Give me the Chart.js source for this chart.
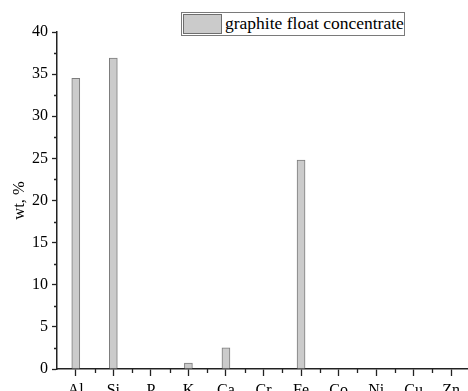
<!DOCTYPE html>
<html>
<head>
<meta charset="utf-8">
<script src="https://cdn.jsdelivr.net/npm/chart.js@4"></script>
<style>
  html, body { margin: 0; padding: 0; background: #fff; overflow: hidden; }
  #wrap { position: relative; width: 468px; height: 391px; overflow: hidden; }
  #chart { position: absolute; left: 0; top: 0; }
  #legend {
    position: absolute; left: 181px; top: 12px; width: 222px; height: 22px;
    border: 1px solid #7a7a7a; background: #fff;
    font-family: "Liberation Serif", "Times New Roman", serif; font-size: 17.5px; color: #000;
  }
  #legend .sw {
    position: absolute; left: 1px; top: 1px; width: 37px; height: 18px;
    background: #cbcbcb; border: 1px solid #6e6e6e;
  }
  #legend .txt { position: absolute; left: 43px; top: 0px; line-height: 21px; white-space: nowrap; }
</style>
</head>
<body>
<div id="wrap">
  <canvas id="chart" width="480" height="420"></canvas>
  <div id="legend"><div class="sw"></div><div class="txt">graphite float concentrate</div></div>
</div>
<script>
const elements = ["Al", "Si", "P", "K", "Ca", "Cr", "Fe", "Co", "Ni", "Cu", "Zn"];
const wtPercent = [34.5, 36.9, 0, 0.7, 2.5, 0, 24.8, 0, 0, 0, 0];
const yTicks = [0, 5, 10, 15, 20, 25, 30, 35, 40];
const seriesName = "graphite float concentrate";

const serif = "'Liberation Serif', 'Times New Roman', serif";

// minor ticks: halfway on y, category boundaries on x
const minorTicks = {
    id: "minorTicks",
    afterDraw(c) {
        const g = c.ctx, x = c.scales.x, y = c.scales.y;
        g.save();
        g.strokeStyle = "#222";
        g.lineWidth = 1.3;
        g.beginPath();
        for (let i = 0; i < yTicks.length - 1; i++) {
            const py = Math.round(y.getPixelForValue((yTicks[i] + yTicks[i + 1]) / 2)) + 0.5;
            g.moveTo(x.left - 3, py);
            g.lineTo(x.left, py);
        }
        const step = (x.right - x.left) / elements.length;
        for (let i = 1; i < elements.length; i++) {
            const px = Math.round(x.left + step * i) + 0.5;
            g.moveTo(px, y.bottom);
            g.lineTo(px, y.bottom + 4);
        }
        g.stroke();
        g.restore();
    }
};

new Chart(document.getElementById("chart"), {
    type: "bar",
    data: {
        labels: elements,
        datasets: [{
            label: seriesName,
            data: wtPercent,
            backgroundColor: "#cbcbcb",
            borderColor: "#7c7c7c",
            borderWidth: 1,
            barThickness: 8
        }]
    },
    options: {
        responsive: false,
        animation: false,
        devicePixelRatio: 1,
        layout: { padding: { top: 32, left: 0, right: 10, bottom: 0 } },
        plugins: { legend: { display: false }, tooltip: { enabled: false } },
        scales: {
            x: {
                offset: true,
                grid: { offset: false, drawOnChartArea: false, tickLength: 7, color: "#222", tickWidth: 1.3 },
                border: { color: "#222", width: 1.5 },
                ticks: { font: { family: serif, size: 16 }, color: "#000", padding: 5, maxRotation: 0, autoSkip: false },
                afterFit(s) { s.height = 51; }
            },
            y: {
                min: 0, max: 40,
                afterBuildTicks(s) { s.ticks = yTicks.map(v => ({ value: v })); },
                grid: { drawOnChartArea: false, tickLength: 5, color: "#222", tickWidth: 1.3 },
                border: { color: "#222", width: 1.5 },
                ticks: { font: { family: serif, size: 16 }, color: "#000", padding: 4 },
                title: { display: true, text: "wt, %", font: { family: serif, size: 16.5 }, color: "#000", padding: { top: 10, bottom: 0 } },
                afterFit(s) { s.width = 57; }
            }
        }
    },
    plugins: [minorTicks]
});
</script>
</body>
</html>
